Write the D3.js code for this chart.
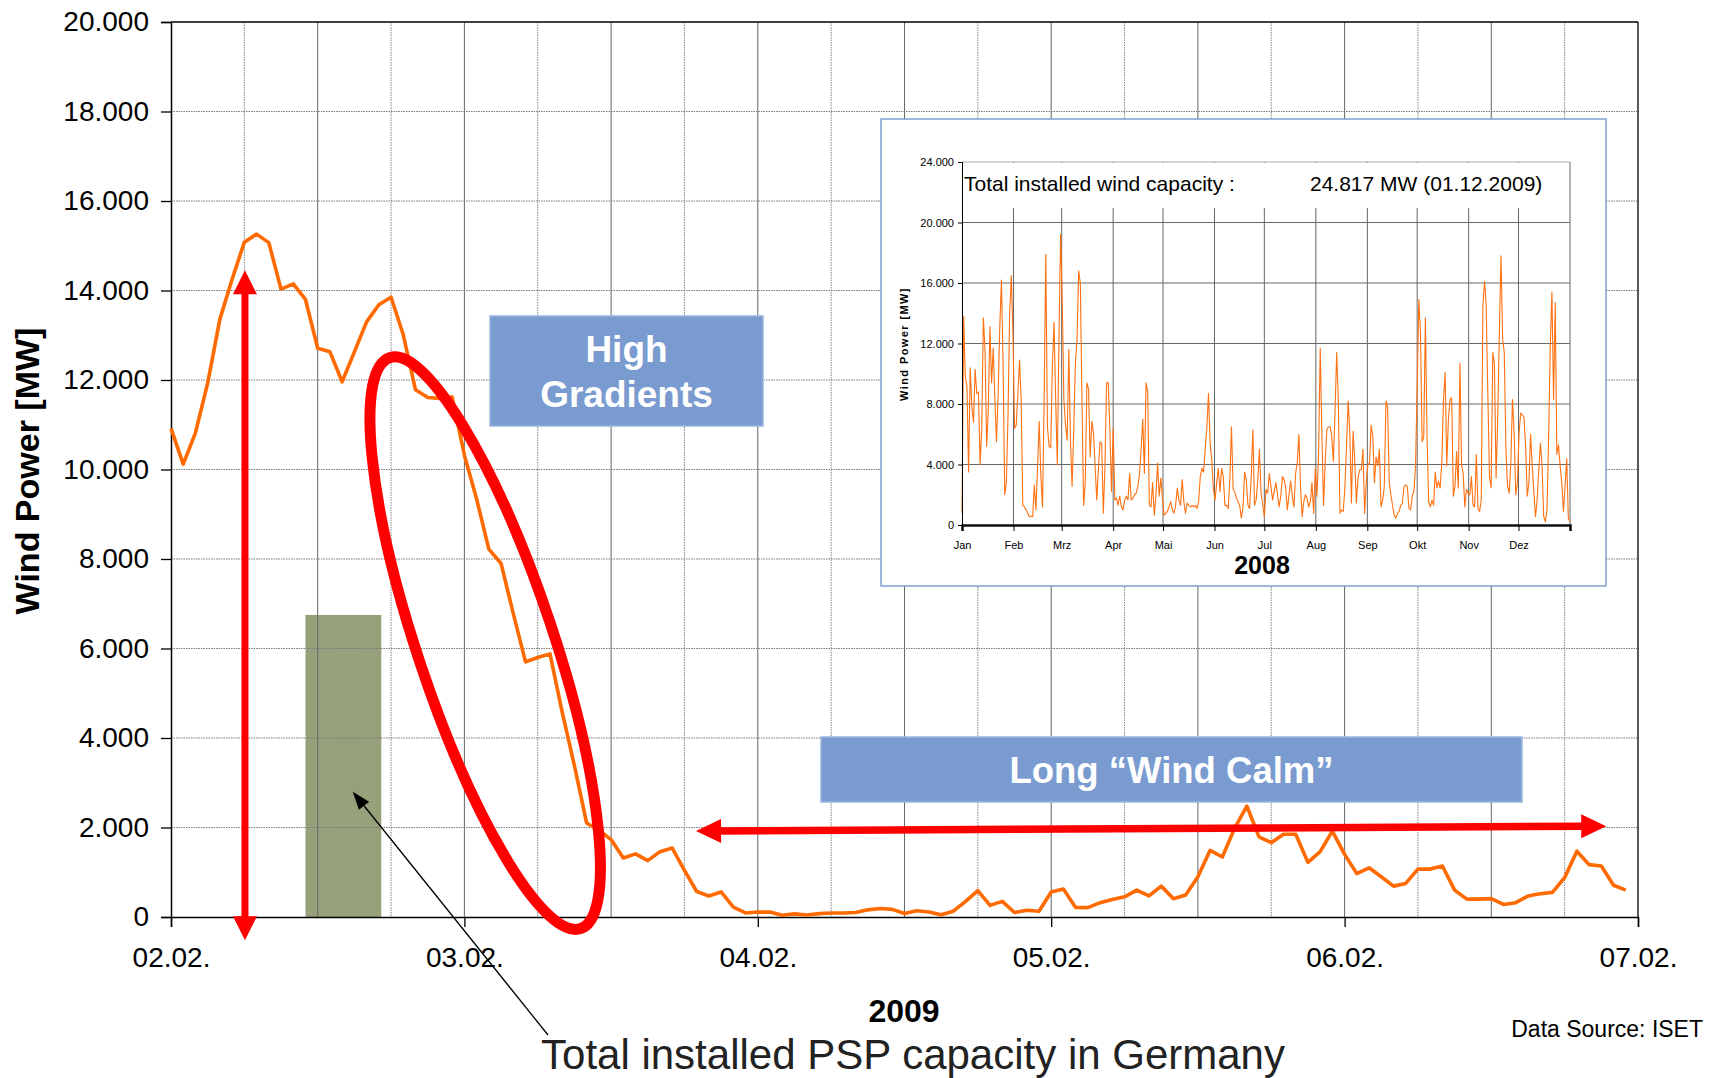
<!doctype html>
<html>
<head>
<meta charset="utf-8"/>
<title>Wind Power - February 2009</title>
<script src="https://cdnjs.cloudflare.com/ajax/libs/d3/7.8.5/d3.min.js"></script>
<style>
  body { margin:0; background:#fff; }
  svg text { font-family: "Liberation Sans", Arial, sans-serif; }
</style>
</head>
<body>
<script>
// ---- data (main chart: hourly wind power, 02.02.2009 - 07.02.2009) ----
const startTime = new Date(2009, 1, 2, 0);
const endTime   = new Date(2009, 1, 7, 0);
const windPower = [
  10920,10120,10820,11930,13360,14250,15080,15260,15070,14030,14150,13800,
  12710,12630,11960,12630,13300,13680,13850,13010,11780,11610,11590,11620,
  10320, 9340, 8220, 7900, 6780, 5700, 5800, 5880, 4580, 3380, 2100, 1940,
  1730, 1320, 1410, 1260, 1460, 1540, 1040,  570,  470,  560,  220,   90,
   110,  110,   40,   70,   45,   75,   90,   90,  100,  160,  190,  170,
    80,  140,  110,   50,  130,  350,  590,  260,  350,  100,  150,  130,
   560,  625,  215,  210,  320,  390,  450,  600,  470,  690,  410,  490,
   900, 1490, 1340, 1980, 2480, 1790, 1660, 1850, 1850, 1220, 1460, 1920,
  1400,  970, 1100,  900,  690,  750, 1070, 1070, 1140,  600,  400,  400,
   410,  280,  320,  470,  520,  550,  880, 1470, 1170, 1140,  710,  600
];
const yTicks = [0, 2000, 4000, 6000, 8000, 10000, 12000, 14000, 16000, 18000, 20000];
const dayTicks = [2, 3, 4, 5, 6, 7].map(d => new Date(2009, 1, d));
const pspCapacity = 6750;   // total installed PSP capacity (MW)

// ---- data (inset: daily wind power 2008) ----
const insetStart = new Date(2008, 0, 1);
const insetEnd   = new Date(2009, 0, 1);
const wind2008 = [
  770,13800,9800,9200,3500,10400,7800,6800,10300,8700,8800,4000,6400,13700,11600,5200,7600,13100,9400,11700,
  8300,5500,8700,13100,16200,10700,2000,2800,7200,14000,16500,12700,6400,6600,8700,10900,8300,1300,1200,1000,
  770,550,600,550,2650,1000,3900,6850,3200,1200,8300,17900,6500,5200,5100,10500,13400,8300,4000,12300,
  19200,14900,8300,6600,5600,11600,5600,2550,6300,10700,12300,16800,16000,8300,1300,2800,9400,9000,4500,6850,
  6100,3900,1650,3650,5500,5400,770,3900,9400,9400,6300,2200,6400,1650,1770,1300,1900,1200,1000,1650,
  1900,1650,3400,1650,1770,2000,2100,2550,3300,5000,7000,3400,9400,8800,1300,1200,2800,650,1900,4100,
  1900,3100,1750,650,770,900,1200,1550,1000,770,1300,2450,1650,1300,3000,1550,770,1450,1300,1200,
  1300,1200,1300,1100,1550,3200,3750,3500,5000,6400,8700,5400,4300,2350,1650,2800,3750,2200,3750,3200,
  1300,1300,1100,3000,6500,2350,2200,1770,1550,1300,450,1200,3500,3000,1300,1100,3200,6300,1300,1650,
  3000,5000,2100,1300,550,2350,2100,3400,2550,1650,2200,2800,2000,1200,1900,3200,3000,2450,1000,2000,
  2900,1900,1200,3400,4100,6000,2550,550,1550,2000,1770,1200,1550,2800,770,3750,1900,4750,11700,6100,
  1300,4100,6300,6500,6500,5850,4200,7400,11400,8300,770,1000,900,2450,5200,8200,6100,1450,6200,4300,
  1450,3100,3650,3650,5000,770,2800,4000,4100,6600,5850,2800,4500,3900,5000,1200,1650,2550,8200,7800,
  2800,2000,1300,650,450,770,900,1300,1450,2550,2650,2550,1100,1000,1900,2200,3900,9200,14900,12700,
  5500,5850,13700,5850,1550,1200,1650,1300,3500,2450,2900,2450,4200,8300,10100,3900,7000,8300,8400,1900,
  2550,4850,2450,10700,4000,3400,1200,2350,2100,2000,3200,1300,1200,4650,1100,900,1650,14500,16100,14500,
  8700,3200,2450,11400,10700,3100,7000,12700,17800,12300,11400,5000,2550,2100,4100,8300,6100,2000,2800,6100,
  7400,7300,7100,5200,1900,2800,6000,3900,2200,550,1650,3650,5400,3900,550,220,1000,5850,11800,15400,
  8300,14700,4650,5300,3900,2800,900,2550,4400,450,220
];
const insetYTicks = [0, 4000, 8000, 12000, 16000, 20000, 24000];
const monthNames = ['Jan','Feb','Mrz','Apr','Mai','Jun','Jul','Aug','Sep','Okt','Nov','Dez'];

// german number format 20.000
const de = d3.formatLocale({decimal: ',', thousands: '.', grouping: [3], currency: ['', ' €']});
const fmt = de.format(',');

const W = 1710, H = 1078;
const svg = d3.select('body').append('svg').attr('width', W).attr('height', H);

// ---- scales ----
const x = d3.scaleTime().domain([startTime, endTime]).range([171, 1638]);
const y = d3.scaleLinear().domain([0, 20000]).range([917, 22]);
const hour = h => d3.timeMinute.offset(startTime, Math.round(h * 60));

// PSP bar (under the grid)
svg.append('rect')
   .attr('x', x(hour(11))).attr('width', x(hour(17.2)) - x(hour(11)))
   .attr('y', y(pspCapacity)).attr('height', y(0) - y(pspCapacity))
   .style('fill', '#96a07b');

// grid
const grid = svg.append('g');
const sixHours = d3.timeHour.every(6).range(startTime, d3.timeHour.offset(endTime, 1));
grid.selectAll('.vg').data(sixHours.filter(d => +d > +startTime && +d < +endTime))
   .enter().append('line')
    .attr('x1', d => x(d)).attr('x2', d => x(d))
    .attr('y1', y(20000)).attr('y2', y(0))
    .style('stroke', d => d.getHours() % 12 === 0 ? '#666' : '#858585')
    .style('stroke-dasharray', d => d.getHours() % 12 === 0 ? null : '1.5,1')
    .style('stroke-width', 1);
grid.selectAll('.hg').data(yTicks.filter(d => d > 0 && d < 20000))
   .enter().append('line')
    .attr('x1', x(startTime)).attr('x2', x(endTime))
    .attr('y1', d => y(d)).attr('y2', d => y(d))
    .style('stroke', '#7a7a7a').style('stroke-dasharray', '1.5,1').style('stroke-width', 1);

// border top / right
svg.append('line').attr('x1', x(startTime)).attr('x2', x(endTime)).attr('y1', y(20000)).attr('y2', y(20000))
   .style('stroke', '#000').style('stroke-width', 1.3);
svg.append('line').attr('x1', x(endTime)).attr('x2', x(endTime)).attr('y1', y(20000)).attr('y2', y(0))
   .style('stroke', '#000').style('stroke-width', 1.3);

// axes
const yAxis = svg.append('g').attr('transform', `translate(${x(startTime)},0)`)
   .call(d3.axisLeft(y).tickValues(yTicks).tickFormat(fmt).tickSize(10).tickPadding(12));
const xAxis = svg.append('g').attr('transform', `translate(0,${y(0)})`)
   .call(d3.axisBottom(x).tickValues(dayTicks).tickFormat(d3.timeFormat('%d.%m.')).tickSize(10).tickPadding(20));
[yAxis, xAxis].forEach(a => {
  a.select('.domain').style('stroke', '#000').style('stroke-width', 1.5);
  a.selectAll('.tick line').style('stroke', '#000').style('stroke-width', 1.3);
  a.selectAll('text').style('font-size', '28px').style('fill', '#000')
   .style('font-family', '"Liberation Sans", Arial, sans-serif');
});

// blue label boxes
function labelBox(x0, y0, w, h, lines, size, lineGap) {
  svg.append('rect').attr('x', x0).attr('y', y0).attr('width', w).attr('height', h)
     .style('fill', '#7a9bd0').style('stroke', '#9cb5df').style('stroke-width', 1.5);
  const t = svg.append('text').attr('text-anchor', 'middle')
     .style('fill', '#fff').style('font-weight', 'bold').style('font-size', size + 'px');
  lines.forEach((l, i) => {
    t.append('tspan').attr('x', x0 + w / 2)
     .attr('y', y0 + h / 2 + (i - (lines.length - 1) / 2) * lineGap + size * 0.36).text(l);
  });
}
labelBox(490, 316, 273, 110, ['High', 'Gradients'], 37, 45);
labelBox(821, 737, 701, 65, ['Long \u201cWind Calm\u201d'], 36.5, 0);

// orange wind line
const line = d3.line().x((d, i) => x(hour(i))).y(d => y(d));
svg.append('path').datum(windPower)
   .attr('d', line)
   .style('fill', 'none').style('stroke', '#ff6a00').style('stroke-width', 3.6)
   .style('stroke-linejoin', 'round');

// red annotations
function bigArrow(x1, y1, x2, y2, color, width, hl, hw, both) {
  const dx = x2 - x1, dy = y2 - y1, len = Math.hypot(dx, dy);
  const ux = dx / len, uy = dy / len, px = -uy, py = ux;
  const g = svg.append('g');
  const s1 = both ? [x1 + ux * hl * 0.9, y1 + uy * hl * 0.9] : [x1, y1];
  const s2 = [x2 - ux * hl * 0.9, y2 - uy * hl * 0.9];
  g.append('line').attr('x1', s1[0]).attr('y1', s1[1]).attr('x2', s2[0]).attr('y2', s2[1])
   .style('stroke', color).style('stroke-width', width);
  const head = (tx, ty, sx, sy) => {
    const bx = tx - sx * hl, by = ty - sy * hl;
    g.append('path')
     .attr('d', `M${tx},${ty}L${bx + px * hw / 2},${by + py * hw / 2}L${bx - px * hw / 2},${by - py * hw / 2}Z`)
     .style('fill', color);
  };
  head(x2, y2, ux, uy);
  if (both) head(x1, y1, -ux, -uy);
}
bigArrow(x(hour(6.05)), y(-520), x(hour(6.05)), y(14450), '#ff0000', 7, 24, 24, true);
bigArrow(x(hour(42.95)), y(1920), x(hour(117.4)), y(2030), '#ff0000', 7.5, 25, 24, true);

const ecx = x(hour(25.7)), ecy = y(6120);
svg.append('ellipse').attr('cx', ecx).attr('cy', ecy).attr('rx', 68).attr('ry', 301)
   .attr('transform', `rotate(-18.5,${ecx},${ecy})`)
   .style('fill', 'none').style('stroke', '#ff0000').style('stroke-width', 11);

// ---- inset chart (2008) ----
svg.append('rect').attr('x', 881).attr('y', 119).attr('width', 725).attr('height', 467)
   .style('fill', '#fff').style('stroke', '#7f9fd2').style('stroke-width', 1.5);

const ix = d3.scaleTime().domain([insetStart, insetEnd]).range([962, 1570]);
const iy = d3.scaleLinear().domain([0, 24000]).range([525, 162]);
const months = d3.timeMonth.range(insetStart, insetEnd);
const dayStep = 366 / (wind2008.length - 1);

const ig = svg.append('g');
ig.selectAll('.ivg').data(months.slice(1).concat([insetEnd]))
  .enter().append('line')
   .attr('x1', d => ix(d)).attr('x2', d => ix(d)).attr('y1', iy(24000)).attr('y2', iy(0))
   .style('stroke', '#666').style('stroke-width', 1);
ig.selectAll('.ihg').data(insetYTicks.filter(d => d > 0))
  .enter().append('line')
   .attr('x1', ix(insetStart)).attr('x2', ix(insetEnd)).attr('y1', d => iy(d)).attr('y2', d => iy(d))
   .style('stroke', d => d === 24000 ? '#aaa' : '#666').style('stroke-width', 1);

// capacity caption box covers the top of the grid
svg.append('rect').attr('x', ix(insetStart) + 1).attr('y', iy(24000) + 1)
   .attr('width', ix(insetEnd) - ix(insetStart) - 2).attr('height', 45).style('fill', '#fff');
svg.append('text').attr('x', 964).attr('y', 191).style('font-size', '21px').style('fill', '#000')
   .text('Total installed wind capacity :');
svg.append('text').attr('x', 1310).attr('y', 191).style('font-size', '21px').style('fill', '#000')
   .text('24.817 MW (01.12.2009)');

const iline = d3.line()
   .x((d, i) => ix(d3.timeMinute.offset(insetStart, Math.round(i * dayStep * 1440))))
   .y(d => iy(d));
svg.append('path').datum(wind2008).attr('d', iline)
   .style('fill', 'none').style('stroke', '#ff7010').style('stroke-width', 1.1)
   .style('stroke-linejoin', 'round');

const iyAxis = svg.append('g').attr('transform', `translate(${ix(insetStart)},0)`)
   .call(d3.axisLeft(iy).tickValues(insetYTicks).tickFormat(fmt).tickSize(4).tickPadding(4));
iyAxis.select('.domain').style('stroke', '#000');
iyAxis.selectAll('text').style('font-size', '11px').style('fill', '#000');
const ixAxis = svg.append('g').attr('transform', `translate(0,${iy(0)})`)
   .call(d3.axisBottom(ix).tickValues(months.concat([insetEnd])).tickFormat(d => +d === +insetEnd ? '' : monthNames[d.getMonth()])
   .tickSize(6).tickPadding(10));
ixAxis.select('.domain').style('stroke', '#111').style('stroke-width', 2.5);
ixAxis.selectAll('.tick line').style('stroke', '#000');
ixAxis.selectAll('text').style('font-size', '11px').style('fill', '#000');

svg.append('text').attr('transform', `translate(908,344) rotate(-90)`).attr('text-anchor', 'middle')
   .style('font-size', '11px').style('font-weight', 'bold').style('letter-spacing', '1.4px')
   .text('Wind Power [MW]');
svg.append('text').attr('x', 1262).attr('y', 574).attr('text-anchor', 'middle')
   .style('font-size', '25px').style('font-weight', 'bold').text('2008');

// ---- titles and notes ----
svg.append('text').attr('transform', `translate(39,471) rotate(-90)`).attr('text-anchor', 'middle')
   .style('font-size', '34px').style('font-weight', 'bold').text('Wind Power [MW]');
svg.append('text').attr('x', 904).attr('y', 1022).attr('text-anchor', 'middle')
   .style('font-size', '32px').style('font-weight', 'bold').text('2009');
svg.append('text').attr('x', 1703).attr('y', 1037).attr('text-anchor', 'end')
   .style('font-size', '23px').text('Data Source: ISET');
svg.append('text').attr('x', 913).attr('y', 1069).attr('text-anchor', 'middle')
   .style('font-size', '42px').style('fill', '#222').text('Total installed PSP capacity in Germany');

// thin black pointer to the PSP bar
(function () {
  const tx = x(hour(14.87)), ty = y(2800), sx = 548, sy = 1035;
  const len = Math.hypot(tx - sx, ty - sy), ux = (tx - sx) / len, uy = (ty - sy) / len;
  const hl = 18, hw = 13, bx = tx - ux * hl, by = ty - uy * hl;
  svg.append('line').attr('x1', sx).attr('y1', sy).attr('x2', bx).attr('y2', by)
     .style('stroke', '#000').style('stroke-width', 1.3);
  svg.append('path')
     .attr('d', `M${tx},${ty}L${bx - uy * hw / 2},${by + ux * hw / 2}L${bx + uy * hw / 2},${by - ux * hw / 2}Z`)
     .style('fill', '#000');
})();
</script>
</body>
</html>
